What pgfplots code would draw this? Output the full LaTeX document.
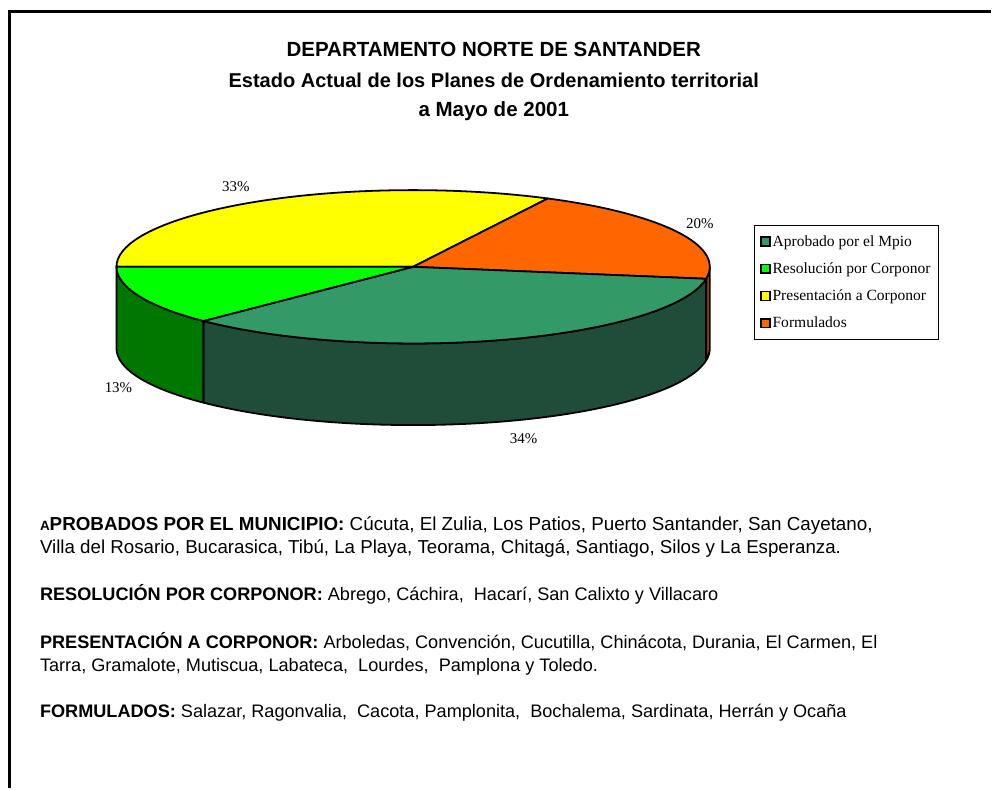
\documentclass[border=0pt]{standalone}
\usepackage{pgfplots}
\pgfplotsset{compat=1.18}
\usepackage{fontspec}
\setmainfont{Liberation Serif}
\newfontfamily\arial{Liberation Sans}

\definecolor{aprob}{RGB}{51,153,102}
\definecolor{aprobside}{RGB}{31,77,58}
\definecolor{resol}{RGB}{0,255,0}
\definecolor{resolside}{RGB}{0,120,0}
\definecolor{pres}{RGB}{255,255,0}
\definecolor{form}{RGB}{255,102,0}
\definecolor{formside}{RGB}{170,68,0}

% municipios por estado
\def\vAprob{14}
\def\vResol{5}
\def\vPres{13}
\def\vForm{8}

\begin{document}
\begin{tikzpicture}
\pgfmathsetmacro\tot{\vAprob+\vResol+\vPres+\vForm}
\pgfmathsetmacro\aA{180}
\pgfmathsetmacro\aB{\aA-360*\vPres/\tot}
\pgfmathsetmacro\aC{\aB-360*\vForm/\tot}
\pgfmathsetmacro\aD{\aC-360*\vAprob/\tot}
\pgfmathsetmacro\aE{\aD-360*\vResol/\tot}
\def\cx{415}\def\cy{522}
\begin{axis}[
    width=992pt, height=790pt, scale only axis,
    xmin=0, xmax=992, ymin=0, ymax=790,
    hide axis, clip=false,
    legend image code/.code={\draw[#1, draw=black, line width=1.6pt] (0pt,-4.5pt) rectangle (9pt,4.5pt);},
    legend style={at={(axis cs:757,564)}, anchor=north west, draw=black, line width=1pt,
        font=\fontsize{15.6}{18}\selectfont, row sep=15pt, inner xsep=6pt, inner ysep=10pt,
        cells={anchor=west}, nodes={inner xsep=2pt, inner ysep=0pt}},
  ]
  \path (axis cs:0,0) rectangle (axis cs:992,790);
  \draw[line width=3pt] (axis cs:10,-2) -- (axis cs:10,778) -- (axis cs:995,778);

  \addlegendimage{fill=aprob}\addlegendentry{Aprobado por el Mpio}
  \addlegendimage{fill=resol}\addlegendentry{Resolución por Corponor}
  \addlegendimage{fill=pres}\addlegendentry{Presentación a Corponor}
  \addlegendimage{fill=form}\addlegendentry{Formulados}

  % paredes
  \begin{scope}[line width=1.8pt, line join=round]
  \filldraw[fill=formside] (axis cs:\cx,\cy) ++(0:298pt and 77pt)
     arc[start angle=0, end angle=\aC, x radius=298pt, y radius=77pt] -- ++(0,-82pt)
     arc[start angle=\aC, end angle=0, x radius=298pt, y radius=77pt] -- cycle;
  \filldraw[fill=aprobside] (axis cs:\cx,\cy) ++(\aC:298pt and 77pt)
     arc[start angle=\aC, end angle=\aD, x radius=298pt, y radius=77pt] -- ++(0,-82pt)
     arc[start angle=\aD, end angle=\aC, x radius=298pt, y radius=77pt] -- cycle;
  \filldraw[fill=resolside] (axis cs:\cx,\cy) ++(\aD:298pt and 77pt)
     arc[start angle=\aD, end angle=\aE, x radius=298pt, y radius=77pt] -- ++(0,-82pt)
     arc[start angle=\aE, end angle=\aD, x radius=298pt, y radius=77pt] -- cycle;
  % caras superiores
  \filldraw[fill=pres] (axis cs:\cx,\cy) -- ++(\aA:298pt and 77pt)
     arc[start angle=\aA, end angle=\aB, x radius=298pt, y radius=77pt] -- cycle;
  \filldraw[fill=form] (axis cs:\cx,\cy) -- ++(\aB:298pt and 77pt)
     arc[start angle=\aB, end angle=\aC, x radius=298pt, y radius=77pt] -- cycle;
  \filldraw[fill=aprob] (axis cs:\cx,\cy) -- ++(\aC:298pt and 77pt)
     arc[start angle=\aC, end angle=\aD, x radius=298pt, y radius=77pt] -- cycle;
  \filldraw[fill=resol] (axis cs:\cx,\cy) -- ++(\aD:298pt and 77pt)
     arc[start angle=\aD, end angle=\aE, x radius=298pt, y radius=77pt] -- cycle;
  \end{scope}

  \begin{scope}[every node/.style={font=\fontsize{15}{15}\selectfont, inner sep=0pt}]
  \node at (axis cs:237,603) {33\%};
  \node at (axis cs:703,565) {20\%};
  \node at (axis cs:119,401) {13\%};
  \node at (axis cs:526,349) {34\%};
  \end{scope}

  \begin{scope}[every node/.style={font=\arial\bfseries\fontsize{20.6}{20}\selectfont, anchor=base, inner sep=0pt}]
  \node at (axis cs:496,733) {DEPARTAMENTO NORTE DE SANTANDER};
  \node[font=\arial\bfseries\fontsize{20.1}{20}\selectfont] at (axis cs:496,702) {Estado Actual de los Planes de Ordenamiento territorial};
  \node at (axis cs:496,673) {a Mayo de 2001};
  \end{scope}

  \begin{scope}[every node/.style={font=\arial\fontsize{18.2}{22}\selectfont, anchor=base west, inner sep=0pt}]
  \node[font=\arial\fontsize{18.9}{22}\selectfont] at (axis cs:40,257) {\textbf{{\fontsize{13.5}{13}\selectfont A}PROBADOS POR EL MUNICIPIO:} Cúcuta, El Zulia, Los Patios, Puerto Santander, San Cayetano,};
  \node[font=\arial\fontsize{18.8}{22}\selectfont] at (axis cs:40,234) {Villa del Rosario, Bucarasica, Tibú, La Playa, Teorama, Chitagá, Santiago, Silos y La Esperanza.};
  \node at (axis cs:40,187) {\textbf{RESOLUCIÓN POR CORPONOR:} Abrego, Cáchira,\ \ Hacarí, San Calixto y Villacaro};
  \node at (axis cs:40,139) {\textbf{PRESENTACIÓN A CORPONOR:} Arboledas, Convención, Cucutilla, Chinácota, Durania, El Carmen, El};
  \node at (axis cs:40,115) {Tarra, Gramalote, Mutiscua, Labateca,\ \ Lourdes,\ \ Pamplona y Toledo.};
  \node at (axis cs:40,69) {\textbf{FORMULADOS:} Salazar, Ragonvalia,\ \ Cacota, Pamplonita,\ \ Bochalema, Sardinata, Herrán y Ocaña};
  \end{scope}
\end{axis}
\end{tikzpicture}
\end{document}
